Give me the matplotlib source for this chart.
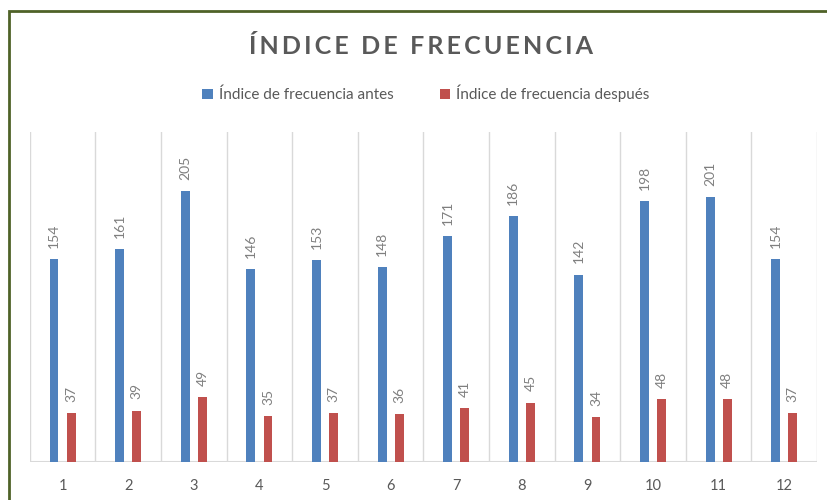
import numpy as np
import matplotlib.pyplot as plt
from matplotlib.patches import Rectangle

plt.rcParams['font.family'] = ['Lato', 'DejaVu Sans']

# Data
categorias = ['1', '2', '3', '4', '5', '6', '7', '8', '9', '10', '11', '12']
antes = [154, 161, 205, 146, 153, 148, 171, 186, 142, 198, 201, 154]
despues = [37, 39, 49, 35, 37, 36, 41, 45, 34, 48, 48, 37]

azul = '#4F81BD'
rojo = '#C0504D'
gris = '#595959'

fig = plt.figure(figsize=(8.27, 5), dpi=100)
ax = fig.add_axes([0.036, 0.076, 0.952, 0.66])

x = np.arange(len(categorias))
w = 0.135
b1 = ax.bar(x - 0.13, antes, w, color=azul, label='Índice de frecuencia antes', zorder=3)
b2 = ax.bar(x + 0.13, despues, w, color=rojo, label='Índice de frecuencia después', zorder=3)

# Data labels, rotated
for bars in (b1, b2):
    for r in bars:
        ax.annotate(f'{int(r.get_height())}', (r.get_x() + r.get_width() / 2, r.get_height()),
                    xytext=(0, 8), textcoords='offset points', rotation=90,
                    ha='center', va='bottom', fontsize=10, color='#7f7f7f')

ax.set_xlim(-0.5, len(categorias) - 0.5)
ax.set_ylim(0, 250)

# Vertical separators between categories
for xv in np.arange(-0.5, len(categorias), 1.0):
    ax.axvline(xv, color='#d9d9d9', lw=1, zorder=1)
ax.axhline(0, color='#d9d9d9', lw=1.5, zorder=2)

ax.set_xticks(x)
ax.set_xticklabels(categorias, fontsize=10.5, color=gris)
ax.tick_params(axis='x', length=0, pad=12)
ax.set_yticks([])
for s in ax.spines.values():
    s.set_visible(False)

# Title with slight letter spacing (thin spaces)
titulo = '\u2009'.join('ÍNDICE DE FRECUENCIA')
fig.text(0.509, 0.908, titulo, ha='center', va='center',
         fontsize=18, fontweight='bold', color=gris)

leg = fig.legend(handles=[b1, b2], loc='center', bbox_to_anchor=(0.515, 0.813), ncol=2,
                 frameon=False, fontsize=11, handlelength=0.7, handleheight=0.7,
                 handletextpad=0.4, columnspacing=3.0)
for t in leg.get_texts():
    t.set_color(gris)

# Outer green border
fig.patches.append(Rectangle((9 / 827, -0.05), 1.0, 0.05 + (500 - 11) / 500, transform=fig.transFigure,
                             fill=False, edgecolor='#4F6228', lw=2))

fig.savefig('out.png', dpi=100)
